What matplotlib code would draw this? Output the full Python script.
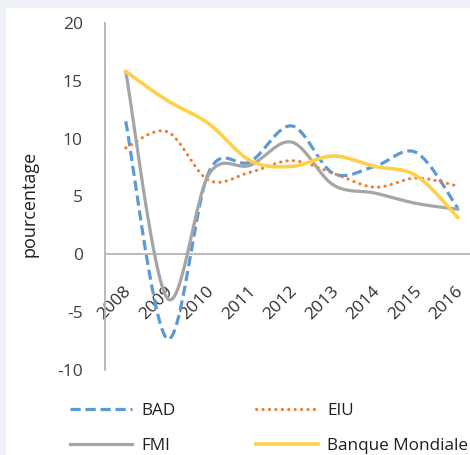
import numpy as np
import matplotlib
matplotlib.use("Agg")
import matplotlib.pyplot as plt

plt.rcParams['font.family'] = ['Open Sans', 'DejaVu Sans']
plt.rcParams['axes.unicode_minus'] = False

years = ["2008", "2009", "2010", "2011", "2012", "2013", "2014", "2015", "2016"]
bad = [11.5, -7.3, 7.1, 8.0, 11.1, 7.0, 7.6, 8.8, 4.0]
eiu = [9.2, 10.6, 6.4, 7.1, 8.1, 7.0, 5.8, 6.6, 5.9]
fmi = [15.8, -3.8, 6.9, 7.7, 9.7, 6.0, 5.3, 4.4, 3.9]
banque_mondiale = [15.8, 13.3, 11.3, 8.1, 7.6, 8.5, 7.6, 6.8, 3.2]
y_ticks = [-10, -5, 0, 5, 10, 15, 20]


def smooth(x, y, steps=30):
    """Catmull-Rom style smoothing through every point (Bezier segments)."""
    x = np.asarray(x, float)
    y = np.asarray(y, float)
    n = len(x)
    xs, ys = [], []
    for i in range(n - 1):
        p0 = np.array([x[max(i - 1, 0)], y[max(i - 1, 0)]])
        p1 = np.array([x[i], y[i]])
        p2 = np.array([x[i + 1], y[i + 1]])
        p3 = np.array([x[min(i + 2, n - 1)], y[min(i + 2, n - 1)]])
        c1 = p1 + (p2 - p0) / 6.0
        c2 = p2 - (p3 - p1) / 6.0
        t = np.linspace(0, 1, steps, endpoint=(i == n - 2))[:, None]
        pts = ((1 - t) ** 3) * p1 + 3 * ((1 - t) ** 2) * t * c1 + 3 * (1 - t) * t ** 2 * c2 + t ** 3 * p2
        xs.append(pts[:, 0])
        ys.append(pts[:, 1])
    return np.concatenate(xs), np.concatenate(ys)


fig = plt.figure(figsize=(4.70, 4.55), dpi=100)
fig.patch.set_facecolor('#EEF1F6')
# white chart area
fig.add_artist(plt.Rectangle((6 / 470, 0), 1, 1 - 8 / 455, transform=fig.transFigure,
                             facecolor='white', edgecolor='none', zorder=0))

ax = fig.add_axes([105 / 470, 1 - 370 / 455, 373.5 / 470, 347 / 455])
ax.set_facecolor('none')
x = np.arange(len(years))

series = [
    (bad, 'BAD', dict(color='#5B9BD5', lw=2.3, linestyle=(0, (3.2, 1.5)))),
    (eiu, 'EIU', dict(color='#ED7D31', lw=2.2, linestyle=(0, (0.1, 2.0)), dash_capstyle='round')),
    (fmi, 'FMI', dict(color='#A5A5A5', lw=2.3)),
    (banque_mondiale, 'Banque Mondiale', dict(color='#FFD04A', lw=2.6)),
]
handles = []
for vals, name, style in series:
    sx, sy = smooth(x, vals)
    h, = ax.plot(sx, sy, label=name, zorder=3, **style)
    handles.append(h)

ax.set_xlim(-0.5, len(years) - 0.5)
ax.set_ylim(-10, 20)
ax.set_yticks(y_ticks)
ax.set_xticks([])
ax.tick_params(axis='y', length=0, pad=16, labelsize=12.5, labelcolor='#404040')
for s in ['top', 'right', 'bottom']:
    ax.spines[s].set_visible(False)
ax.spines['left'].set_color('#B4B4B4')
ax.spines['left'].set_linewidth(1.3)
ax.axhline(0, color='#B4B4B4', lw=1.3, zorder=1)

for i, lab in enumerate(years):
    ax.text(i + 0.08, -3.0, lab, rotation=45, rotation_mode='anchor', ha='right', va='center',
            fontsize=12.5, color='#303030', zorder=1)

fig.text(30 / 470, 1 - 204 / 455, 'pourcentage', rotation=90, ha='center', va='center',
         fontsize=13, color='#202020')

leg = fig.legend(handles=[handles[0], handles[2], handles[1], handles[3]],
                 labels=['BAD', 'FMI', 'EIU', 'Banque Mondiale'],
                 ncol=2, loc='upper left', bbox_to_anchor=(70 / 470, 1 - 403 / 455),
                 frameon=False, fontsize=12.3, handlelength=3.6, handletextpad=0.55,
                 columnspacing=4.75, labelspacing=1.12, borderpad=0, borderaxespad=0)
for t in leg.get_texts():
    t.set_color('#202020')

fig.savefig('out.png', dpi=100, facecolor=fig.get_facecolor())
